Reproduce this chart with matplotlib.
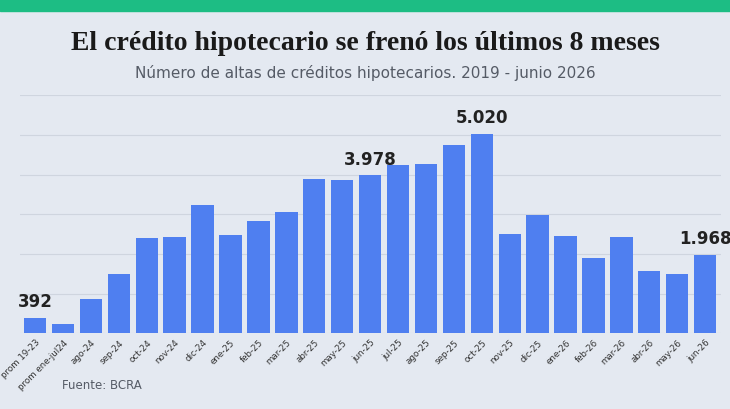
import matplotlib.pyplot as plt
from matplotlib.patches import Rectangle

cats = ['prom 19-23', 'prom ene-jul24', 'ago-24', 'sep-24', 'oct-24', 'nov-24', 'dic-24',
        'ene-25', 'feb-25', 'mar-25', 'abr-25', 'may-25', 'jun-25', 'jul-25', 'ago-25',
        'sep-25', 'oct-25', 'nov-25', 'dic-25', 'ene-26', 'feb-26', 'mar-26', 'abr-26',
        'may-26', 'jun-26']
values = [392, 230, 860, 1490, 2400, 2420, 3230, 2470, 2830, 3050, 3890, 3860, 3978,
          4240, 4270, 4750, 5020, 2500, 2980, 2450, 1890, 2420, 1570, 1490, 1968]
labeled = {0: '392', 12: '3.978', 16: '5.020', 24: '1.968'}

bg = '#e4e9f1'
fig = plt.figure(figsize=(7.3, 4.1), dpi=100, facecolor=bg)
fig.patches.append(Rectangle((0, 0.97), 1, 0.03, transform=fig.transFigure,
                             color='#1dbd84', zorder=0))
fig.text(0.5, 0.893, 'El crédito hipotecario se frenó los últimos 8 meses', ha='center',
         va='center', fontsize=20, fontweight='bold', family='Liberation Serif', color='#1a1a1a')
fig.text(0.5, 0.822, 'Número de altas de créditos hipotecarios. 2019 - junio 2026',
         ha='center', va='center', fontsize=11, color='#555b66')
fig.text(0.085, 0.05, 'Fuente: BCRA', fontsize=8.5, color='#555b66')

ax = fig.add_axes([0.027, 0.185, 0.96, 0.58], facecolor=bg)
x = range(len(cats))
ax.bar(x, values, width=0.8, color='#4f7ff0', zorder=2)
for i, t in labeled.items():
    ax.text(i, values[i] + 200, t, ha='center', va='bottom', fontsize=12,
            fontweight='bold', color='#222')
ax.set_ylim(0, 6000)
ax.set_xlim(-0.55, len(cats) - 0.45)
ax.set_yticks(range(0, 6001, 1000))
ax.set_yticklabels([])
ax.tick_params(axis='y', length=0)
ax.grid(axis='y', color='#cfd5df', linewidth=0.8, zorder=0)
ax.set_xticks(list(x))
ax.set_xticklabels(cats, rotation=45, ha='right', rotation_mode='anchor', fontsize=6.3,
                   color='#333')
ax.tick_params(axis='x', length=0, pad=3)
for s in ax.spines.values():
    s.set_visible(False)

plt.savefig('out.png', dpi=100, facecolor=bg)
